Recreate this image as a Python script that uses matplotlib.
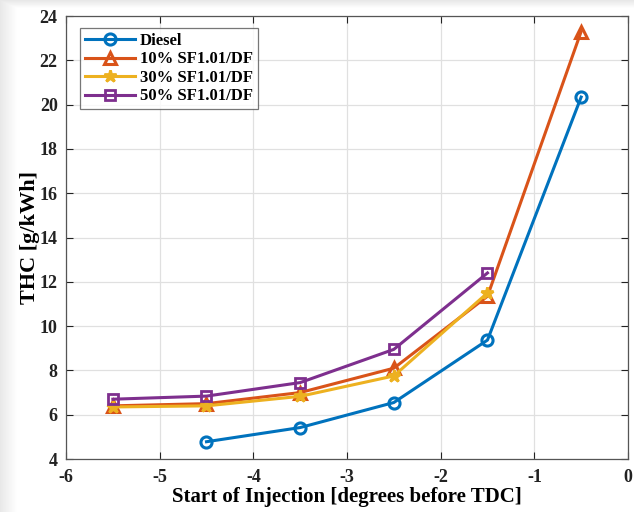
import numpy as np
import matplotlib
matplotlib.use("Agg")
from matplotlib import pyplot as plt

# start of injection, degrees before TDC
soi_diesel = [-4.5, -3.5, -2.5, -1.5, -0.5]
soi_blend = [-5.5, -4.5, -3.5, -2.5, -1.5]
soi_10 = [-5.5, -4.5, -3.5, -2.5, -1.5, -0.5]

# THC, g/kWh
thc_diesel = [4.78, 5.42, 6.55, 9.37, 20.34]
thc_10 = [6.4, 6.5, 7.0, 8.1, 11.35, 23.3]
thc_30 = [6.35, 6.4, 6.83, 7.75, 11.5]
thc_50 = [6.7, 6.84, 7.45, 8.95, 12.4]

labels = ["Diesel", "10% SF1.01/DF", "30% SF1.01/DF", "50% SF1.01/DF"]

plt.rcParams["font.family"] = ["Liberation Serif", "DejaVu Serif"]
plt.rcParams["font.weight"] = "bold"
plt.rcParams["axes.unicode_minus"] = False

fig = plt.figure(figsize=(6.34, 5.12), dpi=100)

# soft shadow along the top and left edges
h, w = 512, 634
yy, xx = np.mgrid[0:h, 0:w]
top = np.clip(yy / 8.0, 0, 1)
left = np.clip(xx / 17.0, 0, 1)
bg = 0.91 + 0.09 * np.minimum(top, left)
bga = fig.add_axes([0, 0, 1, 1], zorder=-10)
bga.imshow(bg, cmap="gray", vmin=0, vmax=1, aspect="auto")
bga.axis("off")

ax = fig.add_axes([0.1041, 0.1035, 0.8864, 0.8652])
ax.set_facecolor("white")

lw = 2.2
ax.plot(soi_diesel, thc_diesel, "-o", color="#0072BD", lw=lw, ms=8,
        mfc="none", mew=2.2, label=labels[0])
ax.plot(soi_10, thc_10, "-^", color="#D95319", lw=lw, ms=9,
        mfc="none", mew=2.2, label=labels[1])
ax.plot(soi_blend, thc_30, "-*", color="#EDB120", lw=lw, ms=9,
        mfc="#EDB120", mew=2, label=labels[2])
ax.plot(soi_blend, thc_50, "-s", color="#7E2F8E", lw=lw, ms=7,
        mfc="none", mew=2, label=labels[3])

ax.set_xlim(-6, 0)
ax.set_ylim(4, 24)
ax.set_xticks(np.arange(-6, 1, 1))
ax.set_yticks(np.arange(4, 25, 2))
ax.grid(True, color="#e0e0e0", lw=0.9)
ax.set_axisbelow(True)
ax.tick_params(direction="in", top=True, right=True, length=5,
               labelsize=13, colors="#222222", width=0.8)
ax.tick_params(axis="x", pad=7)
ax.tick_params(axis="y", pad=6)
for s in ax.spines.values():
    s.set_color("#555555")
    s.set_linewidth(0.9)

ax.set_xlabel("Start of Injection [degrees before TDC]", fontsize=15,
              fontweight="bold", labelpad=1)
ax.set_ylabel("THC [g/kWh]", fontsize=16, fontweight="bold", labelpad=0)

leg = ax.legend(loc="upper left", bbox_to_anchor=(0.025, 0.973), fontsize=12,
                frameon=True, fancybox=False, edgecolor="#555555",
                handlelength=3.0, borderpad=0.3, labelspacing=0.15,
                handletextpad=0.3, borderaxespad=0)
leg.get_frame().set_linewidth(0.9)
for t in leg.get_texts():
    t.set_fontweight("bold")

fig.savefig("out.png", dpi=100)
